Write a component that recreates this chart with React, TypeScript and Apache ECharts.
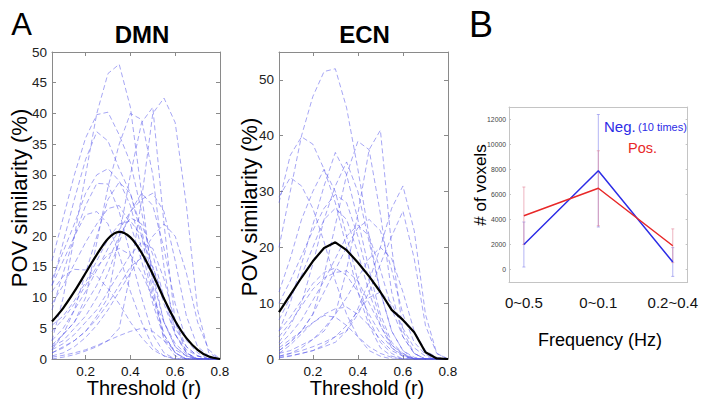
import React, { useEffect, useRef } from 'react';
import * as echarts from 'echarts';

// ---------- Data ----------
const thresholds = [0.05, 0.1, 0.15, 0.2, 0.25, 0.3, 0.35, 0.4, 0.45, 0.5, 0.55, 0.6, 0.65, 0.7, 0.75, 0.8];
const thresholdTicks = [0.2, 0.4, 0.6, 0.8];

const dmnSubjects = [
  [3, 10, 20, 30, 40, 46.5, 48, 41, 27, 12, 3, 0.5, 0, 0, 0, 0],
  [0, 0.3, 0.7, 1.3, 2, 3, 5, 14, 26, 40, 42.5, 38.5, 25, 8, 1, 0],
  [1, 2, 3, 4.5, 7, 10, 20, 30, 38.5, 41, 22, 6, 1, 0, 0, 0],
  [2, 4, 6, 10, 19, 28, 35, 40, 39, 30, 15, 4, 1, 0, 0, 0],
  [16, 23, 30, 36, 39.8, 40.2, 36.5, 32, 24, 14, 6, 2, 0.5, 0, 0, 0],
  [12, 19, 26, 32.5, 37, 35.5, 31, 27, 20, 11, 4, 1, 0, 0, 0, 0],
  [8, 14, 20, 25, 28.6, 28.5, 24, 17, 10, 4, 1, 0, 0, 0, 0, 0],
  [1.5, 4, 8, 14, 20, 26, 28.8, 27, 21, 13, 6, 2, 0.5, 0, 0, 0],
  [12, 16, 20, 23.5, 24, 22, 17, 11, 6, 2, 0.5, 0, 0, 0, 0, 0],
  [11, 13.5, 14.6, 14.5, 13.5, 11.5, 9, 6, 3.5, 1.5, 0.5, 0, 0, 0, 0, 0],
  [2, 3, 5, 7, 10, 14, 19, 24, 27, 25, 18, 9, 3, 1, 0, 0],
  [0.3, 0.6, 1, 1.5, 2.2, 3, 3.8, 4.5, 5, 4.5, 3, 1.5, 0.5, 0, 0, 0],
  [1, 1.8, 3, 4.5, 6.5, 9, 12, 15, 16.5, 15, 10, 5, 2, 0.5, 0, 0],
  [2.3, 4, 6, 9, 12, 16, 20, 23, 22, 17, 10, 4, 1, 0, 0, 0],
  [4.5, 6.5, 9, 12, 15, 17, 18, 17, 14, 10, 6, 2.5, 0.8, 0, 0, 0],
  [5.5, 7, 9.5, 12.5, 16, 19.5, 22, 22.5, 20, 15, 9, 4, 1.5, 0.5, 0, 0],
  [13, 17.5, 22, 27, 30, 31, 29, 25, 18, 10, 4, 1, 0, 0, 0, 0],
  [3, 5, 8, 11, 14.5, 18, 21, 24, 26, 27, 24, 16, 7, 2, 0.5, 0],
  [0.5, 1, 2, 3.5, 5.5, 8, 11, 14, 17, 20, 22, 20, 14, 6, 1.5, 0],
  [9, 12, 15.5, 19, 22, 24.5, 25, 22, 16, 9, 3.5, 1, 0, 0, 0, 0],
  [1.5, 2.5, 4, 6, 8, 11, 14, 17, 19, 18, 13, 6, 2, 0.5, 0, 0],
];
const dmnMean = [6.1, 8.3, 11, 14, 17, 19.6, 20.7, 19.8, 17.3, 13.8, 9.8, 6.2, 3.4, 1.5, 0.4, 0];

const ecnSubjects = [
  [20, 30, 40, 47, 51.5, 52, 45, 34, 22, 12, 5, 1.5, 0.3, 0, 0, 0],
  [28, 36.5, 39.8, 38.5, 34, 28, 20, 12, 6, 2, 0.5, 0, 0, 0, 0, 0],
  [1, 1.5, 2.5, 3.5, 5, 8, 16, 26, 37.5, 41, 20, 5, 1, 0, 0, 0],
  [1.5, 3, 5, 8, 15, 24, 33, 39, 37.5, 26, 12, 4, 1, 0, 0, 0],
  [5, 10, 17, 24, 31, 37, 33, 25, 16, 8, 3, 1, 0, 0, 0, 0],
  [3, 6, 10, 17, 25, 31, 35.3, 30, 21, 12, 5, 1.5, 0, 0, 0, 0],
  [12, 18, 25, 30, 34, 30, 22, 14, 7, 3, 1, 0, 0, 0, 0, 0],
  [29, 32.5, 31, 27, 21, 14, 8, 4, 1.5, 0.5, 0, 0, 0, 0, 0, 0],
  [0.5, 1, 1.5, 2.2, 3, 4, 5, 9, 14, 20, 27, 31, 23, 8, 1, 0],
  [0.2, 0.5, 1, 1.5, 2.2, 3, 5, 8, 12, 17, 22, 26.5, 18, 6, 1, 0],
  [5, 7.5, 10.5, 13.5, 15.5, 16.3, 15, 12, 8, 4.5, 2, 0.7, 0, 0, 0, 0],
  [4, 6.5, 9.5, 12.5, 14.5, 15.5, 15.8, 14, 10, 6, 2.5, 1, 0, 0, 0, 0],
  [2, 3.5, 5, 6.5, 8, 9, 9.3, 8, 6, 3.5, 1.5, 0.5, 0, 0, 0, 0],
  [1, 2.5, 4.5, 6.5, 7.8, 7.5, 6, 4, 2.2, 1, 0.3, 0, 0, 0, 0, 0],
  [1.5, 3, 5, 8, 12, 16, 20, 23.5, 25, 23, 16, 8, 3, 0.8, 0, 0],
  [0.5, 1, 2, 3.5, 5.5, 8, 11, 14.5, 18, 20, 18, 12, 5, 1.5, 0.3, 0],
  [10, 14, 18.5, 23, 27, 29.5, 28, 22, 14, 7, 2.5, 0.8, 0, 0, 0, 0],
  [7, 11, 15, 20, 25, 27, 25, 19, 12, 6, 2, 0.5, 0, 0, 0, 0],
  [2.5, 4.5, 7, 10.5, 14, 18, 22, 24, 22, 16, 9, 4, 1, 0, 0, 0],
  [0.3, 0.6, 1, 1.5, 2.5, 4, 6, 8.5, 11, 12, 10, 5.5, 2, 0.5, 0, 0],
];
const ecnMean = [8.4, 11.5, 14.6, 17.5, 19.9, 20.9, 19.5, 17.3, 14.8, 12, 8.8, 7, 4.8, 1.2, 0.1, 0];

const dmnYTicks = [0, 5, 10, 15, 20, 25, 30, 35, 40, 45, 50];
const ecnYTicks = [0, 10, 20, 30, 40, 50];

const freqBands = ['0~0.5', '0~0.1', '0.2~0.4'];
const bandPositions = [1, 2, 3];
const negValues = [2000, 7900, 600];
const negErrors = [1800, 4500, 1150];
const posValues = [4300, 6500, 1900];
const posErrors = [2300, 3000, 1350];
const voxelTicks = [0, 2000, 4000, 6000, 8000, 10000, 12000];

// ---------- Styles ----------
const FONT = 'Liberation Sans, Arial, Helvetica, sans-serif';
const SUBJ_COLOR = 'rgba(80,80,235,0.5)';
const NEG_COLOR = 'rgb(45,45,230)';
const POS_COLOR = 'rgb(232,40,40)';

function boxAxes(
  gridIndex: number,
  xMin: number, xMax: number, xTicks: number[], xFmt: (v: number) => string,
  yMin: number, yMax: number, yTicks: number[],
  o: { frame: string; tickLen: number; xFont: number; yFont: number; xMargin: number; yMargin: number; topTicks: boolean; labelColor: string }
) {
  const line = { show: true, onZero: false, lineStyle: { color: o.frame, width: 1 } };
  const xAxes = [
    {
      type: 'value', gridIndex, position: 'bottom', min: xMin, max: xMax,
      axisLine: line,
      axisTick: { show: true, inside: true, length: o.tickLen, customValues: xTicks, lineStyle: { color: o.frame } },
      axisLabel: { show: true, customValues: xTicks, formatter: xFmt, fontSize: o.xFont, color: '#111', fontFamily: FONT, margin: o.xMargin, hideOverlap: false },
      splitLine: { show: false },
    },
    {
      type: 'value', gridIndex, position: 'top', min: xMin, max: xMax,
      axisLine: line,
      axisTick: { show: o.topTicks, inside: true, length: o.tickLen, customValues: xTicks, lineStyle: { color: o.frame } },
      axisLabel: { show: false },
      splitLine: { show: false },
    },
  ];
  const yAxes = [
    {
      type: 'value', gridIndex, position: 'left', min: yMin, max: yMax,
      axisLine: line,
      axisTick: { show: true, inside: true, length: o.tickLen, customValues: yTicks, lineStyle: { color: o.frame } },
      axisLabel: { show: true, customValues: yTicks, formatter: (v: number) => String(v), fontSize: o.yFont, color: o.labelColor, fontFamily: FONT, margin: o.yMargin },
      splitLine: { show: false },
    },
    {
      type: 'value', gridIndex, position: 'right', min: yMin, max: yMax,
      axisLine: line,
      axisTick: { show: true, inside: true, length: o.tickLen, customValues: yTicks, lineStyle: { color: o.frame } },
      axisLabel: { show: false },
      splitLine: { show: false },
    },
  ];
  return { xAxes, yAxes };
}

function subjectSeries(rows: number[][], axisIndex: number) {
  return rows.map((row) => ({
    type: 'line',
    xAxisIndex: axisIndex,
    yAxisIndex: axisIndex,
    data: thresholds.map((t, i) => [t, row[i]]),
    symbol: 'none',
    silent: true,
    lineStyle: { color: SUBJ_COLOR, width: 1, type: [5, 3] },
    z: 2,
  }));
}

function errorSeries(values: number[], errors: number[], color: string) {
  return {
    type: 'custom',
    xAxisIndex: 4,
    yAxisIndex: 4,
    silent: true,
    z: 1,
    data: values.map((v, i) => [bandPositions[i], v - errors[i], v + errors[i]]),
    encode: { x: 0, y: [1, 2] },
    renderItem: (_params: any, api: any) => {
      const x = api.value(0);
      const lo = api.coord([x, api.value(1)]);
      const hi = api.coord([x, api.value(2)]);
      const cap = 1.5;
      const st = { stroke: color, lineWidth: 1 };
      return {
        type: 'group',
        children: [
          { type: 'line', shape: { x1: hi[0], y1: hi[1], x2: lo[0], y2: lo[1] }, style: st },
          { type: 'line', shape: { x1: hi[0] - cap, y1: hi[1], x2: hi[0] + cap, y2: hi[1] }, style: st },
          { type: 'line', shape: { x1: lo[0] - cap, y1: lo[1], x2: lo[0] + cap, y2: lo[1] }, style: st },
        ],
      };
    },
  };
}

export default function App() {
  const ref = useRef<HTMLDivElement>(null);
  useEffect(() => {
    if (!ref.current) return;
    const chart = echarts.init(ref.current, undefined, { renderer: 'svg' });

    const aOpts = { frame: '#8a8a8a', tickLen: 4, xFont: 13.5, yFont: 13.5, xMargin: 5, yMargin: 5, topTicks: true, labelColor: '#222' };
    const thrFmt = (v: number) => v.toFixed(1);
    const dmn = boxAxes(0, 0.05, 0.8, thresholdTicks, thrFmt, 0, 50, dmnYTicks, aOpts);
    const ecn = boxAxes(1, 0.05, 0.8, thresholdTicks, thrFmt, 0, 55, ecnYTicks, aOpts);
    const bandFmt = (v: number) => {
      const idx = bandPositions.findIndex((p) => Math.abs(p - v) < 1e-6);
      return idx >= 0 ? freqBands[idx] : '';
    };
    const bp = boxAxes(2, 0.8, 3.2, bandPositions, bandFmt, -1000, 13000, voxelTicks,
      { frame: '#c4c4c4', tickLen: 2, xFont: 15, yFont: 6.8, xMargin: 13, yMargin: 3, topTicks: false, labelColor: '#444' });
    (bp.xAxes[0] as any).axisTick.show = false;

    const text = (x: number, y: number, t: string, size: number, extra: any = {}) => ({
      type: 'text', x, y, silent: true,
      rotation: extra.rotation || 0,
      style: {
        text: t, fontSize: size, fontFamily: FONT, fill: extra.color || '#000',
        fontWeight: extra.bold ? 'bold' : 'normal',
        textAlign: extra.align || 'center', textVerticalAlign: 'middle',
      },
    });

    chart.setOption({
      animation: false,
      backgroundColor: '#fff',
      grid: [
        { left: 52, top: 52, width: 168, height: 307, show: false },
        { left: 279, top: 52, width: 169, height: 307, show: false },
        { left: 509, top: 107, width: 180, height: 175, show: false },
      ],
      xAxis: [...dmn.xAxes, ...ecn.xAxes, ...bp.xAxes],
      yAxis: [...dmn.yAxes, ...ecn.yAxes, ...bp.yAxes],
      series: [
        ...subjectSeries(dmnSubjects, 0),
        {
          type: 'line', xAxisIndex: 0, yAxisIndex: 0, symbol: 'none', smooth: 0.3, silent: true, z: 5,
          data: thresholds.map((t, i) => [t, dmnMean[i]]),
          lineStyle: { color: '#000', width: 2.2 },
        },
        ...subjectSeries(ecnSubjects, 2),
        {
          type: 'line', xAxisIndex: 2, yAxisIndex: 2, symbol: 'none', silent: true, z: 5,
          data: thresholds.map((t, i) => [t, ecnMean[i]]),
          lineStyle: { color: '#000', width: 2.2 },
        },
        errorSeries(negValues, negErrors, 'rgba(130,130,235,0.6)'),
        errorSeries(posValues, posErrors, 'rgba(225,130,150,0.6)'),
        {
          type: 'line', xAxisIndex: 4, yAxisIndex: 4, symbol: 'none', silent: true, z: 4,
          data: negValues.map((v, i) => [bandPositions[i], v]),
          lineStyle: { color: NEG_COLOR, width: 1.5 },
        },
        {
          type: 'line', xAxisIndex: 4, yAxisIndex: 4, symbol: 'none', silent: true, z: 4,
          data: posValues.map((v, i) => [bandPositions[i], v]),
          lineStyle: { color: POS_COLOR, width: 1.5 },
        },
      ],
      graphic: [
        text(21.5, 24, 'A', 31),
        text(481, 24, 'B', 36),
        text(142, 34, 'DMN', 24, { bold: true }),
        text(364.5, 34, 'ECN', 24, { bold: true }),
        text(19, 198, 'POV similarity (%)', 22, { rotation: Math.PI / 2 }),
        text(249, 207, 'POV similarity (%)', 22, { rotation: Math.PI / 2 }),
        text(144, 388, 'Threshold (r)', 20),
        text(367, 388, 'Threshold (r)', 20),
        text(480, 185, '# of voxels', 17, { rotation: Math.PI / 2 }),
        text(600, 340, 'Frequency (Hz)', 18),
        text(604, 126, 'Neg.', 15, { align: 'left', color: NEG_COLOR }),
        text(638, 127, '(10 times)', 11, { align: 'left', color: NEG_COLOR }),
        text(628, 148, 'Pos.', 14.5, { align: 'left', color: POS_COLOR }),
      ],
    });
    return () => chart.dispose();
  }, []);
  return <div ref={ref} style={{ position: 'absolute', left: 0, top: 0, width: 701, height: 407, background: '#fff' }} />;
}
